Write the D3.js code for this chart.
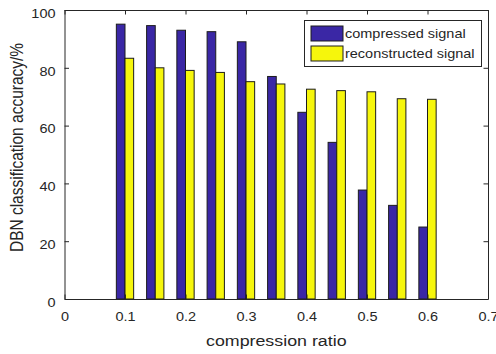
<!DOCTYPE html>
<html>
<head>
<meta charset="utf-8">
<script src="https://cdn.jsdelivr.net/npm/d3@7"></script>
<style>
  html, body { margin: 0; padding: 0; background: #fff; }
  svg text { font-family: Arial, "Liberation Sans", Helvetica, sans-serif; fill: #262626; }
</style>
</head>
<body>
<svg id="chart" width="496" height="354"></svg>
<script>
// Compression ratios and DBN classification accuracy (%) per signal type
const ratios        = [0.10, 0.15, 0.20, 0.25, 0.30, 0.35, 0.40, 0.45, 0.50, 0.55, 0.60];
const compressed    = [95.1, 94.6, 93.0, 92.5, 89.0, 77.0, 64.6, 54.2, 37.7, 32.4, 24.9];
const reconstructed = [83.3, 80.0, 79.1, 78.4, 75.2, 74.4, 72.6, 72.1, 71.7, 69.3, 69.1];
const seriesNames   = ["compressed signal", "reconstructed signal"];
const xTicks        = [0, 0.1, 0.2, 0.3, 0.4, 0.5, 0.6, 0.7];
const yTicks        = [0, 20, 40, 60, 80, 100];

const colors = ["#3a27a5", "#f6f60c"];
const edge = "#1c1c1c";
const axisColor = "#262626";
const sx = 1.15;          // horizontal widening of all lettering
const tickFont = 12.6;
const labelFont = 15.5;

const svg = d3.select("#chart");
const m = { left: 64.5, top: 10, right: 488, bottom: 299 };

const x = d3.scaleLinear().domain([0, 0.7]).range([m.left, m.right]);
const y = d3.scaleLinear().domain([0, 100]).range([m.bottom, m.top]);

// bar width in data units (grouped bars, two per ratio)
const barW = 0.0143;
const series = [compressed, reconstructed];

series.forEach((vals, si) => {
  svg.append("g")
    .selectAll("rect")
    .data(ratios.map((r, i) => ({ r, v: vals[i] })))
    .join("rect")
    .attr("x", d => x(si === 0 ? d.r - barW : d.r))
    .attr("width", d => x(d.r + barW) - x(d.r))
    .attr("y", d => y(d.v))
    .attr("height", d => y(0) - y(d.v))
    .attr("fill", colors[si])
    .attr("stroke", edge)
    .attr("stroke-width", 1);
});

// axes with inward ticks, mirrored on top and right
const tickLen = 4.5;
const fmtX = d => d === 0 ? "0" : d3.format(".1f")(d);

const gx = svg.append("g").attr("transform", `translate(0,${m.bottom})`)
  .call(d3.axisBottom(x).tickValues(xTicks).tickFormat(fmtX).tickSizeInner(-tickLen).tickSizeOuter(0));
const gxTop = svg.append("g").attr("transform", `translate(0,${m.top})`)
  .call(d3.axisTop(x).tickValues(xTicks).tickFormat("").tickSizeInner(-tickLen).tickSizeOuter(0));
const gy = svg.append("g").attr("transform", `translate(${m.left},0)`)
  .call(d3.axisLeft(y).tickValues(yTicks).tickSizeInner(-tickLen).tickSizeOuter(0));
const gyRight = svg.append("g").attr("transform", `translate(${m.right},0)`)
  .call(d3.axisRight(y).tickValues(yTicks).tickFormat("").tickSizeInner(-tickLen).tickSizeOuter(0));

[gx, gxTop, gy, gyRight].forEach(g => {
  g.selectAll("path.domain").attr("stroke", axisColor).attr("stroke-width", 1);
  g.selectAll(".tick line").attr("stroke", axisColor);
  g.selectAll(".tick text").style("font-size", tickFont + "px").attr("fill", axisColor)
    .style("font-family", "Arial, 'Liberation Sans', sans-serif");
});
gx.selectAll(".tick text")
  .attr("y", 0).attr("dy", null)
  .attr("transform", `translate(0,21.7) scale(${sx},1)`);
gy.selectAll(".tick text")
  .attr("x", 0).attr("dy", null)
  .attr("transform", `translate(-9,7.2) scale(${sx},1)`);

// axis titles
svg.append("text")
  .attr("transform", `translate(${(m.left + m.right) / 2},346) scale(${sx},1)`)
  .attr("text-anchor", "middle")
  .style("font-size", labelFont + "px")
  .text("compression ratio");

svg.append("text")
  .attr("transform", `translate(22.5,147.5) scale(${sx},1) rotate(-90)`)
  .attr("text-anchor", "middle")
  .style("font-size", labelFont + "px")
  .text("DBN classification accuracy/%");

// legend
const lg = svg.append("g");
lg.append("rect")
  .attr("x", 304.5).attr("y", 20.5).attr("width", 177).attr("height", 46)
  .attr("fill", "#fff").attr("stroke", axisColor).attr("stroke-width", 1);
seriesNames.forEach((name, i) => {
  const yy = 26 + i * 20;
  lg.append("rect")
    .attr("x", 311).attr("y", yy).attr("width", 32).attr("height", 15)
    .attr("fill", colors[i]).attr("stroke", edge).attr("stroke-width", 1);
  lg.append("text")
    .attr("transform", `translate(345,${yy + 12}) scale(${sx},1)`)
    .style("font-size", tickFont + "px")
    .text(name);
});
</script>
</body>
</html>
